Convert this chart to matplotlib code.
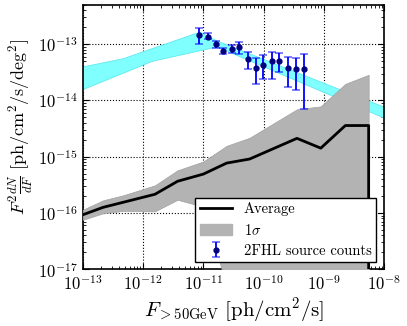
import matplotlib
matplotlib.use("Agg")
import matplotlib.pyplot as plt
import numpy as np
from matplotlib.patches import Rectangle
from matplotlib.lines import Line2D

plt.rcParams['font.family'] = 'serif'
plt.rcParams['font.serif'] = ['cmr10']
plt.rcParams['mathtext.fontset'] = 'cm'
plt.rcParams['axes.formatter.use_mathtext'] = True
plt.rcParams['axes.unicode_minus'] = False

# Average curve (Monte Carlo)
avg_flux = [1.0e-13, 2.17e-13, 4.67e-13, 1.57e-12, 3.72e-12, 9.95e-12, 2.42e-11,
            5.83e-11, 3.55e-10, 8.81e-10, 2.25e-9, 5.48e-9]
avg_val = [9.3e-17, 1.26e-16, 1.55e-16, 2.15e-16, 3.66e-16, 4.91e-16, 7.70e-16,
           9.10e-16, 2.12e-15, 1.42e-15, 3.58e-15, 3.58e-15]
sig_hi = [1.14e-16, 1.68e-16, 2.06e-16, 3.10e-16, 5.73e-16, 8.22e-16, 1.56e-15,
          2.17e-15, 6.95e-15, 7.85e-15, 1.97e-14, 2.85e-14]
sig_lo = [7.57e-17, 9.88e-17, 1.09e-16, 1.07e-16, 1.72e-16, 1.29e-16, 5e-18,
          5e-18, 5e-18, 5e-18, 5e-18, 5e-18]

# 2FHL source counts
src_flux = [8.55e-12, 1.18e-11, 1.60e-11, 2.14e-11, 2.95e-11, 3.94e-11, 5.44e-11,
            7.40e-11, 9.89e-11, 1.36e-10, 1.82e-10, 2.51e-10, 3.41e-10, 4.63e-10]
src_val = [1.48e-13, 1.36e-13, 1.0e-13, 7.5e-14, 8.35e-14, 8.85e-14, 5.49e-14,
           3.84e-14, 4.24e-14, 4.99e-14, 5.12e-14, 3.79e-14, 3.64e-14, 3.69e-14]
src_hi = [1.92e-13, 1.60e-13, 1.16e-13, 8.6e-14, 9.7e-14, 1.07e-13, 7.2e-14,
          5.65e-14, 6.4e-14, 7.4e-14, 6.9e-14, 5.8e-14, 5.65e-14, 6.7e-14]
src_lo = [1.01e-13, 1.24e-13, 8.6e-14, 6.55e-14, 7.1e-14, 6.65e-14, 3.65e-14,
          1.96e-14, 2.4e-14, 2.43e-14, 3.2e-14, 1.75e-14, 1.55e-14, 7.1e-15]

# Cyan model band
band_flux = [1e-13, 4.67e-13, 1.40e-12, 8.55e-12, 1.46e-11, 1.66e-11, 1e-8]
band_hi = [4.02e-14, 5.65e-14, 8.51e-14, 1.67e-13, 1.24e-13, 1.16e-13, 7.67e-15]
band_lo = [1.60e-14, 3.13e-14, 5.06e-14, 7.78e-14, 8.85e-14, 9.08e-14, 4.90e-15]

fig = plt.figure(figsize=(4.07, 3.26), dpi=100)
ax = fig.add_axes([0.2035, 0.174, 0.741, 0.812])
ax.set_xscale('log')
ax.set_yscale('log')

ax.fill_between(band_flux, band_lo, band_hi, color='#80ffff', edgecolor='#60e8ee',
                linewidth=0.6, zorder=2)
ax.fill_between(avg_flux, sig_lo, sig_hi, color='#b3b3b3', edgecolor='#a0a0a0',
                linewidth=0.5, zorder=3)
ax.plot(avg_flux + [avg_flux[-1]], avg_val + [1e-20], color='k', lw=2, zorder=4)

src_flux_a = np.array(src_flux)
src_val_a = np.array(src_val)
yerr = [src_val_a - np.array(src_lo), np.array(src_hi) - src_val_a]
eb = ax.errorbar(src_flux_a, src_val_a, yerr=yerr, fmt='o', color='b',
                 mfc='#000080', mec='#000080', ms=3.5, capsize=3, elinewidth=1.3,
                 capthick=1.3, zorder=5)
for c in eb[1]:
    c.set_alpha(0.55)

ax.set_xlim(1e-13, 1e-8)
ax.set_ylim(1e-17, 5.05e-13)
ax.grid(True, which='major', color='k', linestyle=':', linewidth=0.8)
ax.tick_params(which='both', direction='in', top=True, right=True, labelsize=12)
ax.tick_params(which='major', length=4, width=0.8)
ax.tick_params(which='minor', length=2, width=0.6)
for s in ax.spines.values():
    s.set_linewidth(1.2)

ax.set_xlabel(r'$F_{>50{\rm GeV}}\ [{\rm ph/cm^2/s}]$', fontsize=15, labelpad=2)
ax.set_ylabel(r'$F^2\frac{dN}{dF}\ [{\rm ph/cm^2/s/deg^2}]$', fontsize=13)
ax.yaxis.set_label_coords(-0.155, 0.536)

h_line = Line2D([], [], color='k', lw=2)
h_patch = Rectangle((0, 0), 1, 1, color='#b3b3b3')
leg = ax.legend([h_line, h_patch, eb], ['Average', r'$1\sigma$', '2FHL source counts'],
                loc='lower right', bbox_to_anchor=(0.9715, 0.0265), borderaxespad=0,
                fontsize=10.5, fancybox=False, framealpha=1, edgecolor='k',
                handlelength=2.2, handletextpad=0.8, borderpad=0.3, labelspacing=0.45)
leg.get_frame().set_linewidth(1.0)
leg.set_zorder(10)

fig.savefig('out.png', dpi=100)
